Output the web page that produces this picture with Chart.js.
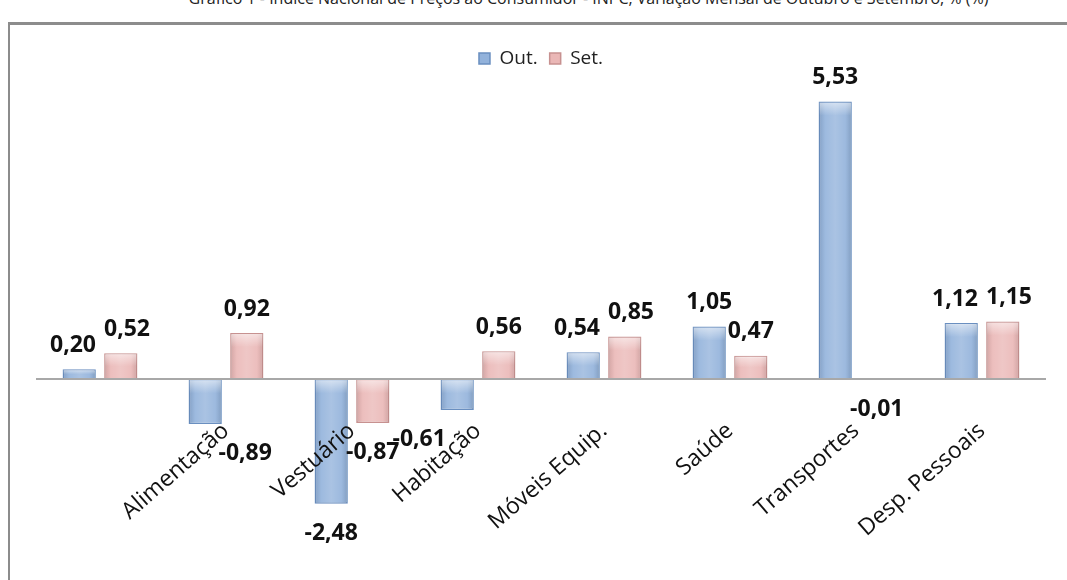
<!DOCTYPE html>
<html>
<head>
<meta charset="utf-8">
<script src="https://cdn.jsdelivr.net/npm/chart.js@4"></script>
<style>
  body { margin: 0; background: #fff; }
  #wrap { position: relative; width: 1067px; height: 580px; overflow: hidden; }
  #frame { position: absolute; left: 8px; top: 22px; width: 1100px; height: 600px;
           border-left: 2px solid #8c8c8c; border-top: 3px solid #8c8c8c; }
  #title { position: absolute; left: 0; width: 1067px; top: -13px; text-align: center;
           font: 16px 'Open Sans', sans-serif; color: #222; padding-left: 110px; box-sizing: border-box; white-space: nowrap; }
  canvas { position: absolute; left: 0; top: 0; }
</style>
</head>
<body>
<div id="wrap">
  <div id="title">Gráfico 1 - Índice Nacional de Preços ao Consumidor - INPC, Variação Mensal de Outubro e Setembro, % (%)</div>
  <div id="frame"></div>
  <canvas id="myChart" width="1067" height="580"></canvas>
</div>
<script>
'use strict';

// categorias e valores
let categories = ['', 'Alimentação', 'Vestuário', 'Habitação', 'Móveis Equip.', 'Saúde', 'Transportes', 'Desp. Pessoais'];
let outValues = [0.20, -0.89, -2.48, -0.61, 0.54, 1.05, 5.53, 1.12];
let setValues = [0.52, 0.92, -0.87, 0.56, 0.85, 0.47, -0.01, 1.15];
let seriesNames = ['Out.', 'Set.'];

// points along each rotated tick label, so value labels can step out of the way
function tickTextPoints(chart) {
  let ctx = chart.ctx;
  let pts = [];
  let items = chart.scales.x.getLabelItems ? chart.scales.x.getLabelItems() : [];
  items.forEach(function (item) {
    let txt = Array.isArray(item.label) ? item.label.join(' ') : item.label;
    if (!txt) return;
    ctx.save();
    ctx.font = item.font.string;
    let w = ctx.measureText(txt).width;
    ctx.restore();
    let o = item.options;
    let size = item.font.size;
    let top = item.textOffset;
    if (o.textBaseline === 'middle') top -= size / 2;
    else if (o.textBaseline === 'bottom' || o.textBaseline === 'alphabetic') top -= size;
    let left = o.textAlign === 'right' ? -w : (o.textAlign === 'center' ? -w / 2 : 0);
    let c = Math.cos(o.rotation);
    let s = Math.sin(o.rotation);
    for (let lx = left + 2; lx <= left + w - 1; lx += 3) {
      [0.35, 0.55, 0.75].forEach(function (f) {
        let ly = top + size * f;
        pts.push([o.translation[0] + lx * c - ly * s, o.translation[1] + lx * s + ly * c]);
      });
    }
  });
  return pts;
}

function hits(pts, x, y, w, h) {
  for (let i = 0; i < pts.length; i++) {
    let p = pts[i];
    if (p[0] > x - w / 2 - 2 && p[0] < x + w / 2 + 2 && p[1] > y - h / 2 && p[1] < y + h / 2) return true;
  }
  return false;
}

// light bevel on the bars, like the 3D-ish office style
let barShine = {
  id: 'barShine',
  afterDatasetsDraw(chart) {
    let ctx = chart.ctx;
    ctx.save();
    chart.data.datasets.forEach(function (ds, i) {
      chart.getDatasetMeta(i).data.forEach(function (bar) {
        let half = bar.width / 2;
        let top = Math.min(bar.y, bar.base);
        let h = Math.abs(bar.base - bar.y);
        if (h < 2) return;
        let g = ctx.createLinearGradient(bar.x - half, 0, bar.x + half, 0);
        g.addColorStop(0, 'rgba(0,0,0,0.10)');
        g.addColorStop(0.2, 'rgba(255,255,255,0.10)');
        g.addColorStop(0.5, 'rgba(255,255,255,0.22)');
        g.addColorStop(0.8, 'rgba(255,255,255,0.10)');
        g.addColorStop(1, 'rgba(0,0,0,0.12)');
        ctx.fillStyle = g;
        ctx.fillRect(bar.x - half + 1, top + 1, bar.width - 2, h - 2);
        let cap = Math.min(14, h / 2);
        let g2 = ctx.createLinearGradient(0, top, 0, top + cap);
        g2.addColorStop(0, 'rgba(255,255,255,0.55)');
        g2.addColorStop(1, 'rgba(255,255,255,0)');
        ctx.fillStyle = g2;
        ctx.fillRect(bar.x - half + 1, top + 1, bar.width - 2, cap);
      });
    });
    ctx.restore();
  }
};

// draws the value labels at the end of each bar,
// pushing the two labels of a category apart when they collide
let valueLabels = {
  id: 'valueLabels',
  afterDatasetsDraw(chart) {
    let ctx = chart.ctx;
    let pts = tickTextPoints(chart);
    ctx.save();
    ctx.font = 'bold 23px "Open Sans", sans-serif';
    ctx.fillStyle = '#111';
    ctx.textAlign = 'center';
    ctx.textBaseline = 'middle';
    let metaA = chart.getDatasetMeta(0);
    let metaB = chart.getDatasetMeta(1);
    for (let j = 0; j < categories.length; j++) {
      let items = [];
      [metaA, metaB].forEach(function (meta, i) {
        let v = chart.data.datasets[i].data[j];
        let bar = meta.data[j];
        let txt = v.toFixed(2).replace('.', ',');
        let y = v >= 0 ? bar.y - 24 : bar.y + 30;
        items.push({ txt: txt, x: bar.x, y: y, w: ctx.measureText(txt).width });
      });
      let a = items[0];
      let b = items[1];
      let need = (a.w + b.w) / 2 + 8;
      if (Math.abs(a.y - b.y) < 28 && b.x - a.x < need) {
        let extra = (need - (b.x - a.x)) / 2;
        a.x -= extra;
        b.x += extra;
      }
      items.forEach(function (it) {
        if (hits(pts, it.x, it.y, it.w, 18)) {
          for (let d = 2; d < 120; d += 2) {
            if (!hits(pts, it.x + d, it.y, it.w, 18)) { it.x += d; break; }
            if (!hits(pts, it.x - d, it.y, it.w, 18)) { it.x -= d; break; }
          }
        }
        ctx.fillText(it.txt, it.x, it.y);
      });
    }
    ctx.restore();
  }
};

const ctx = document.getElementById('myChart');

new Chart(ctx, {
  type: 'bar',
  data: {
    labels: categories,
    datasets: [{
      label: seriesNames[0],
      data: outValues,
      backgroundColor: '#92B2DB',
      borderColor: '#6A8FC0',
      borderWidth: 1.5,
      categoryPercentage: 0.66,
      barPercentage: 0.8
    }, {
      label: seriesNames[1],
      data: setValues,
      backgroundColor: '#EAB7B6',
      borderColor: '#C79190',
      borderWidth: 1.5,
      categoryPercentage: 0.66,
      barPercentage: 0.8
    }]
  },
  options: {
    responsive: false,
    animation: false,
    layout: { padding: { left: 37, right: 22, top: 37, bottom: 25 } },
    plugins: {
      legend: {
        position: 'top',
        labels: {
          boxWidth: 11,
          boxHeight: 11,
          padding: 12,
          color: '#222',
          font: { family: 'Open Sans', size: 19 }
        }
      },
      tooltip: { enabled: false }
    },
    scales: {
      x: {
        position: { y: 0 },
        z: 1,
        grid: { display: false, z: 1 },
        border: { color: '#a8a8a8', width: 2, z: 1 },
        ticks: {
          z: 1,
          color: '#111',
          font: { family: 'Open Sans', size: 23 },
          minRotation: 41,
          maxRotation: 41,
          padding: 30,
          autoSkip: false
        }
      },
      y: {
        display: false,
        min: -3.5,
        max: 6
      }
    }
  },
  plugins: [barShine, valueLabels]
});
</script>
</body>
</html>
